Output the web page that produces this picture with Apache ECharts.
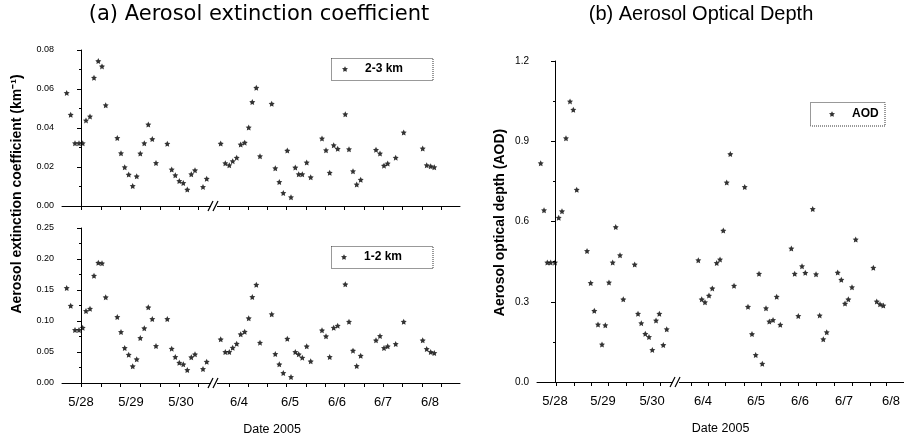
<!DOCTYPE html>
<html><head><meta charset="utf-8">
<script src="https://cdn.jsdelivr.net/npm/echarts@6/dist/echarts.min.js"></script>
<style>html,body{margin:0;padding:0;background:#fff}#c{width:904px;height:440px}</style>
</head><body><div id="c"></div>
<script>
// ---- tick labels / positions (x in "day position" units) ----
const dateLabels = ['5/28','5/29','5/30','6/4','6/5','6/6','6/7','6/8'];
const labelPosA = [0, 1, 2, 3.16, 4.18, 5.12, 6.04, 6.98];
const labelPosB = [0, 0.997, 2.015, 3.074, 4.174, 5.088, 6.002, 6.978];
const tickPosA = [0.014,0.4,0.794,1.18,1.58,1.966,2.354,2.96,3.346,3.726,4.114,4.5,4.886,5.274,5.66,6.046,6.434,6.82,7.214];
const tickPosB = [0.021,0.401,0.748,1.107,1.475,1.834,2.181,2.839,3.184,3.545,3.925,4.293,4.673,5.053,5.435,5.794,6.183,6.542,6.889];
const breakA = 2.66, breakB = 2.513;

// ---- panel (a): observation positions shared by both heights ----
const timeA = [-0.286,-0.206,-0.12,-0.04,0.034,0.1,0.18,0.26,0.346,0.42,0.494,
  0.726,0.8,0.874,0.954,1.034,1.114,1.186,1.266,1.346,1.426,1.5,
  1.726,1.814,1.886,1.966,2.046,2.126,2.206,2.28,2.44,2.514,
  2.794,2.886,2.966,3.034,3.114,3.194,3.274,3.354,3.426,3.506,3.58,
  3.814,3.886,3.966,4.046,4.126,4.2,4.286,4.354,4.426,4.514,4.594,
  4.82,4.9,4.974,5.054,5.134,5.286,5.36,5.44,5.514,5.594,
  5.9,5.98,6.06,6.134,6.294,6.454,
  6.834,6.914,6.994,7.066];
const ext23 = [0.058,0.0468,0.0322,0.0322,0.0322,0.0439,0.0459,0.0658,0.0743,0.0716,0.0517,
  0.0349,0.0271,0.0199,0.0161,0.0103,0.0152,0.0269,0.0322,0.0418,0.0343,0.0221,
  0.0319,0.0187,0.0158,0.0128,0.0118,0.0084,0.0163,0.0183,0.0098,0.014,
  0.032,0.0219,0.0209,0.023,0.0248,0.0315,0.0325,0.0403,0.0533,0.0606,0.0255,
  0.0524,0.0194,0.0123,0.0067,0.0284,0.0045,0.0197,0.0163,0.0163,0.0223,0.0147,
  0.0346,0.0286,0.0171,0.0312,0.0293,0.0471,0.0291,0.0178,0.011,0.0135,
  0.0288,0.0269,0.0207,0.0218,0.0248,0.0377,
  0.0295,0.0209,0.0204,0.0199];
const ext12 = [0.1532,0.1247,0.0855,0.0855,0.0892,0.1161,0.1199,0.1731,0.1941,0.193,0.1382,
  0.1065,0.0823,0.0565,0.0457,0.0269,0.0382,0.0726,0.0882,0.122,0.1032,0.0597,
  0.1032,0.0554,0.0419,0.0328,0.0301,0.021,0.0414,0.0462,0.0226,0.0344,
  0.0704,0.05,0.05,0.057,0.0634,0.0785,0.0828,0.1043,0.1387,0.1586,0.0651,
  0.1108,0.0468,0.0301,0.0161,0.0715,0.0097,0.05,0.0462,0.0409,0.0591,0.0349,
  0.0849,0.0753,0.0419,0.0892,0.0925,0.1591,0.0989,0.0522,0.0274,0.0441,
  0.0688,0.0758,0.0565,0.0591,0.0629,0.0989,
  0.0688,0.0548,0.05,0.0484];

// ---- panel (b) ----
const timeB = [-0.297,-0.228,-0.16,-0.089,0,0.077,0.145,0.228,0.312,0.38,0.451,
  0.665,0.741,0.816,0.893,0.976,1.045,1.121,1.198,1.261,1.35,1.418,
  1.655,1.724,1.792,1.875,1.952,2.021,2.098,2.167,2.249,2.32,
  2.976,3.047,3.115,3.198,3.267,3.358,3.427,3.495,3.566,3.641,3.718,
  3.94,4.008,4.091,4.168,4.237,4.305,4.382,4.451,4.528,4.604,4.679,
  4.908,4.978,5.053,5.13,5.198,5.352,5.421,5.497,5.572,5.643,
  5.871,5.946,6.023,6.092,6.168,6.245,
  6.611,6.682,6.75,6.819];
const aod = [0.818,0.642,0.447,0.447,0.447,0.614,0.638,0.911,1.049,1.018,0.719,
  0.49,0.37,0.266,0.215,0.14,0.212,0.372,0.447,0.579,0.474,0.309,
  0.439,0.255,0.22,0.18,0.168,0.12,0.23,0.255,0.138,0.197,
  0.455,0.309,0.298,0.323,0.35,0.445,0.458,0.566,0.746,0.852,0.36,
  0.729,0.281,0.179,0.101,0.405,0.068,0.276,0.226,0.232,0.319,0.214,
  0.499,0.405,0.247,0.433,0.408,0.647,0.403,0.249,0.16,0.186,
  0.409,0.382,0.293,0.309,0.354,0.533,
  0.427,0.301,0.291,0.286];

const FONT = 'Liberation Sans, Arial, sans-serif';
const INK = '#000';
const STAR = 'path://M0,-10L2.9,-4L9.5,-3.1L4.7,1.5L5.9,8.1L0,5L-5.9,8.1L-4.7,1.5L-9.5,-3.1L-2.9,-4Z';

function xAxisDef(gi, labelPos, tickPos, min, max, showLabels, name, namePad) {
  return {
    type: 'value', gridIndex: gi, min: min, max: max,
    splitLine: {show: false},
    axisLine: {show: true, lineStyle: {color: INK, width: 1}},
    axisTick: {show: true, length: 4, lineStyle: {color: INK}, customValues: tickPos},
    axisLabel: {
      show: showLabels, customValues: labelPos, margin: 13,
      fontFamily: FONT, fontSize: 13, color: INK,
      formatter: function (v) {
        for (let i = 0; i < labelPos.length; i++) if (Math.abs(labelPos[i] - v) < 1e-6) return dateLabels[i];
        return '';
      }
    },
    name: name || '', nameLocation: 'middle', nameGap: 40,
    nameTextStyle: {fontFamily: FONT, fontSize: 12.5, color: INK, padding: namePad || 0}
  };
}
function yAxisDef(gi, max, interval, digits, fs) {
  return {
    type: 'value', gridIndex: gi, min: 0, max: max, interval: interval,
    splitLine: {show: false},
    axisLine: {show: true, lineStyle: {color: INK, width: 1}},
    axisTick: {show: true, length: 4, lineStyle: {color: INK}},
    minorTick: {show: true, splitNumber: 2, length: 2, lineStyle: {color: INK}},
    axisLabel: {margin: 8, fontFamily: FONT, fontSize: fs, color: INK,
      formatter: function (v) { return v.toFixed(digits); }}
  };
}
function breakSeries(xi, bx) {
  return {
    type: 'custom', xAxisIndex: xi, yAxisIndex: xi, silent: true, z: 10, clip: false,
    data: [[bx, 0]],
    renderItem: function (params, api) {
      const p = api.coord([api.value(0), api.value(1)]);
      return {type: 'group', children: [
        {type: 'rect', shape: {x: p[0] - 3, y: p[1] - 2, width: 6, height: 4}, style: {fill: '#fff'}},
        {type: 'line', shape: {x1: p[0] - 6, y1: p[1] + 5, x2: p[0] - 1, y2: p[1] - 5}, style: {stroke: INK, lineWidth: 1.2}},
        {type: 'line', shape: {x1: p[0] - 1, y1: p[1] + 5, x2: p[0] + 4, y2: p[1] - 5}, style: {stroke: INK, lineWidth: 1.2}}
      ]};
    }
  };
}
function legendDef(name, left, top) {
  return {data: [name], left: left, top: top, padding: 0, itemWidth: 6, itemHeight: 6, icon: STAR,
    selectedMode: false,
    textStyle: {fontFamily: FONT, fontSize: 12, fontWeight: 'bold', color: INK, padding: [0, 0, 0, 12]}};
}
function boxDef(x, y, w, h) {
  return {type: 'rect', shape: {x: x, y: y, width: w, height: h}, silent: true,
    style: {fill: 'none', stroke: '#333', lineWidth: 1, lineDash: [1, 1]}};
}

const chart = echarts.init(document.getElementById('c'), null, {renderer: 'canvas'});
chart.setOption({
  backgroundColor: '#fff',
  animation: false,
  title: [
    {text: '(a) Aerosol extinction coefficient', left: 259, top: 4, padding: 0, textAlign: 'center',
      textStyle: {fontFamily: 'DejaVu Sans', fontSize: 21, fontWeight: 'normal', color: INK}},
    {text: '(b) Aerosol Optical Depth', left: 701, top: 4, padding: 0, textAlign: 'center',
      textStyle: {fontFamily: FONT, fontSize: 20, fontWeight: 'normal', color: INK}}
  ],
  grid: [
    {left: 62, top: 50, width: 398, height: 156},
    {left: 62, top: 228, width: 398, height: 155},
    {left: 537, top: 61, width: 367, height: 323}
  ],
  xAxis: [
    xAxisDef(0, labelPosA, tickPosA, -0.38, 7.58, false),
    xAxisDef(1, labelPosA, tickPosA, -0.38, 7.58, true, 'Date 2005', [0, 0, 0, 22]),
    xAxisDef(2, labelPosB, tickPosB, -0.374, 7.248, true, 'Date 2005')
  ],
  yAxis: [
    yAxisDef(0, 0.08, 0.02, 2, 9),
    yAxisDef(1, 0.25, 0.05, 2, 9),
    yAxisDef(2, 1.2, 0.3, 1, 10)
  ],
  legend: [
    legendDef('2-3 km', 342, 63),
    legendDef('1-2 km', 341, 251),
    legendDef('AOD', 829, 108)
  ],
  graphic: [
    boxDef(331.5, 58.5, 101.5, 22),
    boxDef(331.5, 246.5, 101.5, 22),
    boxDef(810.5, 102.5, 74.5, 23.5),
    {type: 'text', x: 17, y: 194, rotation: Math.PI / 2, silent: true,
      style: {text: 'Aerosol extinction coefficient (km\u207B\u00B9)', textAlign: 'center', textVerticalAlign: 'middle',
        font: 'bold 14px ' + FONT, fill: INK}},
    {type: 'text', x: 500, y: 222.5, rotation: Math.PI / 2, silent: true,
      style: {text: 'Aerosol optical depth (AOD)', textAlign: 'center', textVerticalAlign: 'middle',
        font: 'bold 14px ' + FONT, fill: INK}}
  ],
  series: [
    {name: '2-3 km', type: 'scatter', xAxisIndex: 0, yAxisIndex: 0, symbol: STAR, symbolSize: 6,
      itemStyle: {color: INK}, data: timeA.map((x, i) => [x, ext23[i]])},
    {name: '1-2 km', type: 'scatter', xAxisIndex: 1, yAxisIndex: 1, symbol: STAR, symbolSize: 6,
      itemStyle: {color: INK}, data: timeA.map((x, i) => [x, ext12[i]])},
    {name: 'AOD', type: 'scatter', xAxisIndex: 2, yAxisIndex: 2, symbol: STAR, symbolSize: 6,
      itemStyle: {color: INK}, data: timeB.map((x, i) => [x, aod[i]])},
    breakSeries(0, breakA),
    breakSeries(1, breakA),
    breakSeries(2, breakB)
  ]
});
</script>
</body></html>
